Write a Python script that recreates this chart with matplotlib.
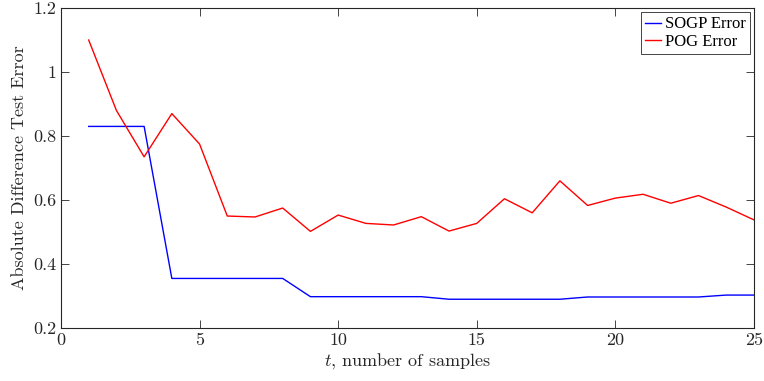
import matplotlib
matplotlib.use("Agg")
import matplotlib.pyplot as plt

t = list(range(1, 26))
sogp = [0.83, 0.83, 0.83, 0.355, 0.355, 0.355, 0.355, 0.355, 0.298, 0.298,
        0.298, 0.298, 0.298, 0.29, 0.29, 0.29, 0.29, 0.29, 0.297, 0.297,
        0.297, 0.297, 0.297, 0.303, 0.303]
pog = [1.10, 0.88, 0.735, 0.87, 0.775, 0.55, 0.547, 0.575, 0.502, 0.553,
       0.527, 0.522, 0.548, 0.503, 0.527, 0.604, 0.56, 0.66, 0.583, 0.606,
       0.618, 0.59, 0.614, 0.578, 0.538]
xticks = [0, 5, 10, 15, 20, 25]
yticks = [0.2, 0.4, 0.6, 0.8, 1.0, 1.2]
ytick_labels = ["0.2", "0.4", "0.6", "0.8", "1", "1.2"]

plt.rcParams['mathtext.fontset'] = 'cm'
fig = plt.figure(figsize=(7.64, 3.81), dpi=100)
ax = fig.add_axes([0.0798, 0.139, 0.907, 0.84])
ax.plot(t, sogp, color='#0000ff', lw=1.0, label='SOGP Error')
ax.plot(t, pog, color='#ff0000', lw=1.0, label='POG Error')
ax.set_xlim(0, 25)
ax.set_ylim(0.2, 1.2)
ax.set_xticks(xticks)
ax.set_yticks(yticks)
ax.set_yticklabels(ytick_labels)
ax.tick_params(direction='in', top=True, right=True, length=6, width=0.6,
               labelsize=13, color='#262626', labelcolor='#262626')
for lab in ax.get_xticklabels() + ax.get_yticklabels():
    lab.set_family('cmr10')
for s in ax.spines.values():
    s.set_linewidth(0.8)
    s.set_color('#262626')
ax.set_xlabel(r'$t$, number of samples', family='cmr10', fontsize=13, labelpad=2, color='#262626')
ax.set_ylabel('Absolute Difference Test Error', family='cmr10', fontsize=13, labelpad=4, color='#262626')
leg = ax.legend(loc='upper right', prop={'family': 'Liberation Serif', 'size': 12},
                handlelength=1.0, handletextpad=0.2, borderpad=0.25, labelspacing=0.1,
                fancybox=False, framealpha=1, edgecolor='#262626', borderaxespad=0.25)
leg.get_frame().set_linewidth(0.6)
fig.savefig('out.png', dpi=100)
